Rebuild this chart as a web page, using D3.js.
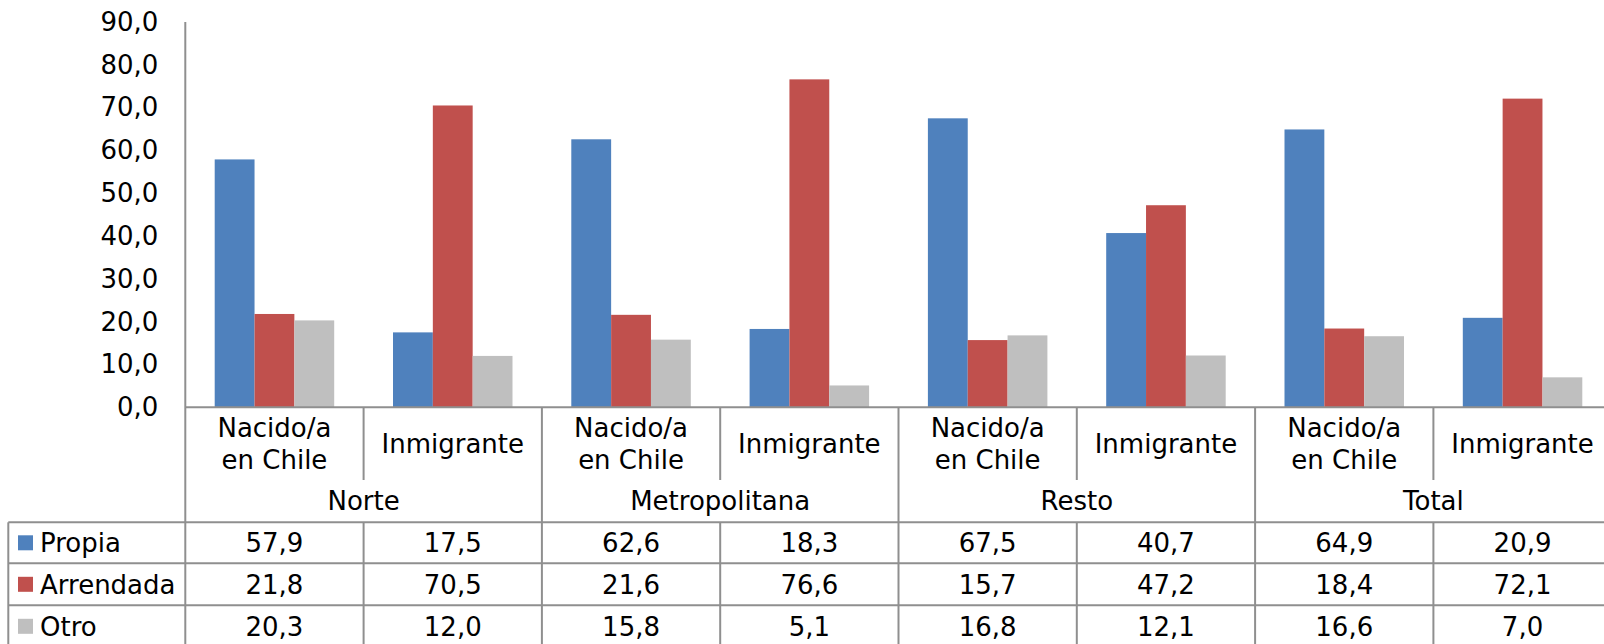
<!DOCTYPE html>
<html>
<head>
<meta charset="utf-8">
<script src="https://cdn.jsdelivr.net/npm/d3@7"></script>
<style>
  html, body { margin: 0; padding: 0; background: #fff; overflow: hidden; }
  svg { display: block; font-family: "DejaVu Sans", Verdana, sans-serif; }
</style>
</head>
<body>
<svg id="chart" width="1604" height="644"></svg>
<script>
// Tenencia de la vivienda por zona y origen (%)
const groups = ["Norte", "Metropolitana", "Resto", "Total"];
const subgroups = [["Nacido/a", "en Chile"], ["Inmigrante"]];
const seriesNames = ["Propia", "Arrendada", "Otro"];
const seriesColors = ["#4F81BD", "#C0504D", "#BFBFBF"];
const propia    = [57.9, 17.5, 62.6, 18.3, 67.5, 40.7, 64.9, 20.9];
const arrendada = [21.8, 70.5, 21.6, 76.6, 15.7, 47.2, 18.4, 72.1];
const otro      = [20.3, 12.0, 15.8, 5.1, 16.8, 12.1, 16.6, 7.0];
const yTicks = [0, 10, 20, 30, 40, 50, 60, 70, 80, 90];

const series = [propia, arrendada, otro];
const categories = d3.range(groups.length * subgroups.length);

const locale = d3.formatLocale({ decimal: ",", thousands: ".", grouping: [3], currency: ["$", ""] });
const fmt = locale.format(".1f");

const svg = d3.select("#chart");
const lineColor = "#8f8f8f";
const fontSize = 26;

// Plot area
const plotLeft = 185.3, catWidth = 178.3;
const plotRight = plotLeft + catWidth * categories.length;
const yTop = 22, yBase = 407.3;
const tableLeft = 8.3;
const labelRowBottom = 480;     // end of sub-category separators
const tableTop = 522.3;         // first horizontal line of data table
const rowLines = [522.3, 563.3, 605.3, 647.3];

const x = d3.scaleBand().domain(categories).range([plotLeft, plotRight]).padding(0);
const xs = d3.scaleBand().domain(d3.range(series.length))
  .range([29.4, catWidth - 29.4]).padding(0);
const y = d3.scaleLinear().domain([0, 90]).range([yBase, yTop]);

// Y axis labels
const yAxis = d3.axisLeft(y).tickValues(yTicks).tickFormat(fmt).tickSize(0).tickPadding(27);
const gy = svg.append("g").attr("transform", `translate(${plotLeft},0)`).call(yAxis);
gy.select(".domain").remove();
gy.selectAll("text").attr("font-size", fontSize).attr("fill", "#000")
  .attr("font-family", "DejaVu Sans, Verdana, sans-serif");

// Bars
series.forEach((vals, si) => {
  svg.append("g").selectAll("rect").data(vals).join("rect")
    .attr("x", (d, i) => x(i) + xs(si))
    .attr("width", xs.bandwidth())
    .attr("y", d => y(d))
    .attr("height", d => y(0) - y(d))
    .attr("fill", seriesColors[si]);
});

// Axis and table lines
const lines = svg.append("g").attr("stroke", lineColor).attr("stroke-width", 2).attr("fill", "none");
// vertical value axis, continuing through the table
lines.append("line").attr("x1", plotLeft).attr("x2", plotLeft).attr("y1", yTop).attr("y2", 644);
// baseline
lines.append("line").attr("x1", plotLeft).attr("x2", plotRight).attr("y1", yBase).attr("y2", yBase);
// category boundaries
categories.slice(1).forEach(i => {
  const xx = x(i);
  const isGroupEdge = i % subgroups.length === 0;
  lines.append("line").attr("x1", xx).attr("x2", xx)
    .attr("y1", isGroupEdge ? yBase : yBase).attr("y2", isGroupEdge ? 644 : labelRowBottom);
  if (!isGroupEdge) {
    lines.append("line").attr("x1", xx).attr("x2", xx).attr("y1", tableTop).attr("y2", 644);
  }
});
// data table horizontal lines and left border
rowLines.forEach(yy => {
  lines.append("line").attr("x1", tableLeft).attr("x2", plotRight).attr("y1", yy).attr("y2", yy);
});
lines.append("line").attr("x1", tableLeft).attr("x2", tableLeft).attr("y1", tableTop).attr("y2", 644);

// Sub-category labels
const txt = svg.append("g").attr("font-size", fontSize).attr("fill", "#000").attr("text-anchor", "middle");
categories.forEach(i => {
  const lbl = subgroups[i % subgroups.length];
  const cx = x(i) + catWidth / 2;
  const lineH = 32.3;
  const base0 = 453 - (lbl.length - 1) * lineH / 2;
  lbl.forEach((s, k) => {
    txt.append("text").attr("x", cx).attr("y", base0 + k * lineH).text(s);
  });
});
// Group labels
groups.forEach((g, gi) => {
  const cx = x(gi * subgroups.length) + catWidth * subgroups.length / 2;
  txt.append("text").attr("x", cx).attr("y", 510).text(g);
});

// Data table rows with legend keys
series.forEach((vals, si) => {
  const top = rowLines[si], bottom = rowLines[si + 1];
  const mid = (top + bottom) / 2;
  svg.append("rect").attr("x", 18).attr("y", mid - 7.5).attr("width", 15).attr("height", 15)
    .attr("fill", seriesColors[si]);
  svg.append("text").attr("x", 40).attr("y", mid + 9.3).attr("font-size", fontSize)
    .attr("fill", "#000").text(seriesNames[si]);
  vals.forEach((v, i) => {
    txt.append("text").attr("x", x(i) + catWidth / 2).attr("y", mid + 9.3).text(fmt(v));
  });
});
</script>
</body>
</html>
